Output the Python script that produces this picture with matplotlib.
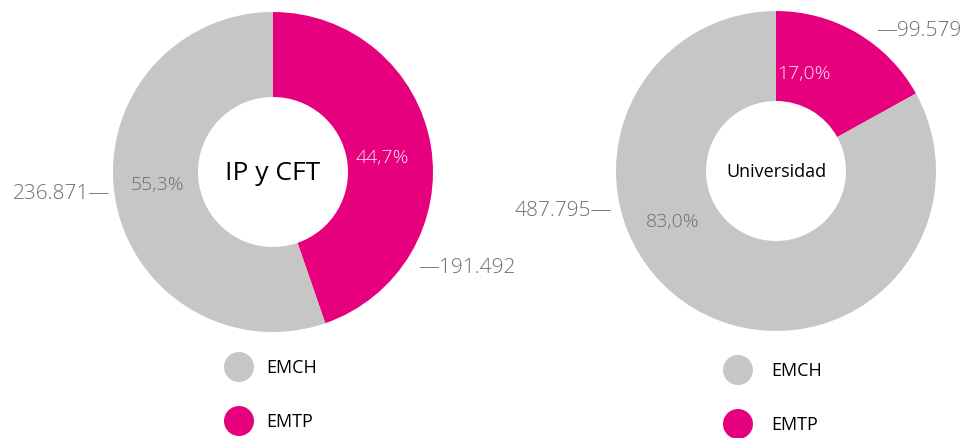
import matplotlib
matplotlib.use("Agg")
import matplotlib.pyplot as plt
from matplotlib.patches import Circle

plt.rcParams['font.family'] = ['Open Sans', 'DejaVu Sans']

categories = ["EMTP", "EMCH"]
titles = ["IP y CFT", "Universidad"]
values_ip = [191492, 236871]
values_uni = [99579, 487795]
pct_ip = ["44,7%", "55,3%"]
pct_uni = ["17,0%", "83,0%"]
val_labels_ip = ["\u2014191.492", "236.871\u2014"]
val_labels_uni = ["\u201499.579", "487.795\u2014"]

PINK = "#E6007E"
GRAY = "#C6C6C6"
TXT_GRAY = "#6E6E6E"
colors = [PINK, GRAY]

W, H = 964, 439
fig = plt.figure(figsize=(W / 100, H / 100), dpi=100)
ax = fig.add_axes([0, 0, 1, 1])

def Y(py):
    return H - py

def donut(cx, cy, r, rin, vals, title, tsize):
    ax.pie(vals, colors=colors, startangle=90, counterclock=False,
           center=(cx, Y(cy)), radius=r, frame=True,
           wedgeprops=dict(width=r - rin, linewidth=0))
    ax.text(cx, Y(cy), title, ha='center', va='center', fontsize=tsize, color='black')

LW = 'light'

# left donut
donut(273, 173, 160, 75, values_ip, titles[0], 19)
ax.text(382, Y(158), pct_ip[0], ha='center', va='center', fontsize=14, color='#FCE6F1', fontweight=LW)
ax.text(157, Y(185), pct_ip[1], ha='center', va='center', fontsize=14, color=TXT_GRAY, fontweight=LW)
ax.text(418, Y(268), val_labels_ip[0], ha='left', va='center', fontsize=15, color=TXT_GRAY, fontweight=LW)
ax.text(110, Y(194), val_labels_ip[1], ha='right', va='center', fontsize=15, color=TXT_GRAY, fontweight=LW)

# right donut
donut(776, 172, 160, 70, values_uni, titles[1], 13)
ax.text(804, Y(74), pct_uni[0], ha='center', va='center', fontsize=14, color='#FCE6F1', fontweight=LW)
ax.text(673, Y(222), pct_uni[1], ha='center', va='center', fontsize=14, color=TXT_GRAY, fontweight=LW)
ax.text(876, Y(31), val_labels_uni[0], ha='left', va='center', fontsize=15, color=TXT_GRAY, fontweight=LW)
ax.text(612, Y(211), val_labels_uni[1], ha='right', va='center', fontsize=15, color=TXT_GRAY, fontweight=LW)

# legends
legend_items = [("EMCH", GRAY), ("EMTP", PINK)]
for (lx, ly0, tx) in [(239, 368, 266), (738, 371, 771)]:
    for i, (lab, col) in enumerate(legend_items):
        ly = ly0 + i * 54
        ax.add_patch(Circle((lx, Y(ly)), 15, color=col, linewidth=0))
        ax.text(tx, Y(ly), lab, ha='left', va='center', fontsize=13, color='black')

ax.set_xlim(0, W)
ax.set_ylim(0, H)
ax.set_aspect('equal')
ax.axis('off')

fig.savefig("out.png", dpi=100)
